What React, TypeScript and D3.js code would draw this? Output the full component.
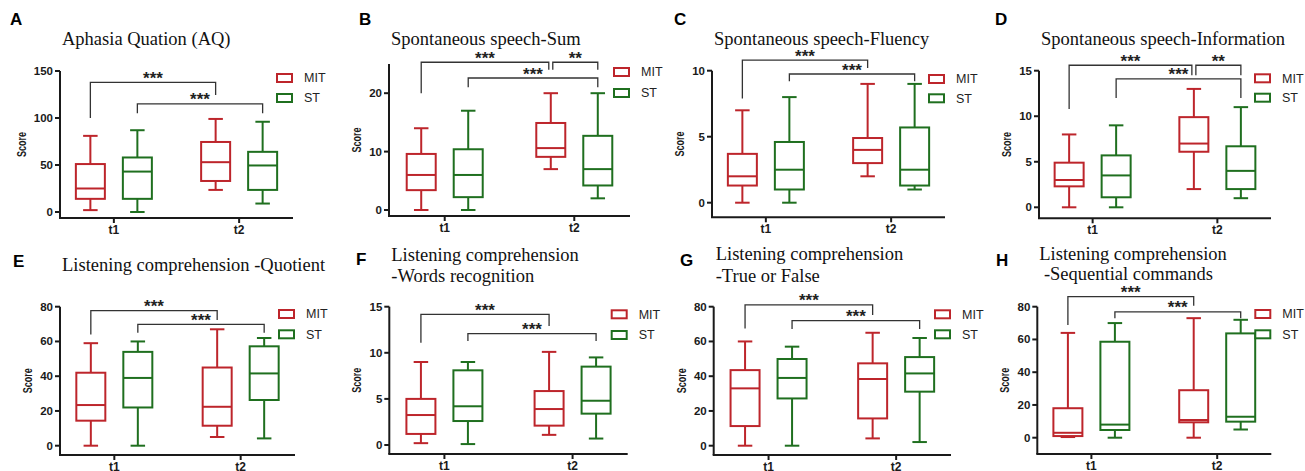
import React from "react"
import * as d3 from "d3"

// groups / timepoints shared by all panels
const timepoints = ["t1", "t2"]
const groups = ["MIT", "ST"]
const groupColor: Record<string, string> = { MIT: "#bd252b", ST: "#1f6f1f" }

const letters = ["A", "B", "C", "D", "E", "F", "G", "H"]
const titles = [
  ["Aphasia Quation (AQ)"],
  ["Spontaneous speech-Sum"],
  ["Spontaneous speech-Fluency"],
  ["Spontaneous speech-Information"],
  ["Listening comprehension -Quotient"],
  ["Listening comprehension", "-Words recognition"],
  ["Listening comprehension", "-True or False"],
  ["Listening comprehension", " -Sequential commands"],
]
const yTicks = [
  [0, 50, 100, 150],
  [0, 10, 20],
  [0, 5, 10],
  [0, 5, 10, 15],
  [0, 20, 40, 60, 80],
  [0, 5, 10, 15],
  [0, 20, 40, 60, 80],
  [0, 20, 40, 60, 80],
]
const yMax = [150, 25, 10, 15, 80, 15, 80, 80]

// [min, q1, median, q3, max] for MIT t1, ST t1, MIT t2, ST t2
const aqStats = [
  [2, 14, 25, 51, 81],
  [0, 14, 43, 58, 87],
  [23.5, 33, 53, 74.5, 99],
  [9, 23.5, 49.5, 64, 96],
]
const sumStats = [
  [0, 3.4, 6, 9.6, 14],
  [0, 2.2, 6, 10.4, 17],
  [7, 9.1, 10.6, 14.9, 20],
  [2, 4.2, 7, 12.7, 20],
]
const fluencyStats = [
  [0, 1.3, 2, 3.7, 7],
  [0, 1, 2.5, 4.6, 8],
  [2, 3, 4, 4.9, 9],
  [1, 1.3, 2.5, 5.7, 9],
]
const infoStats = [
  [0, 2.3, 3, 4.9, 8],
  [0, 1.1, 3.5, 5.7, 9],
  [2, 6.1, 7, 9.9, 13],
  [1, 2, 4, 6.7, 11],
]
const quotientStats = [
  [0, 14.4, 23.4, 42, 59],
  [0, 22, 39, 54, 60],
  [5, 11.5, 22.4, 45, 67],
  [4.2, 26.3, 41.6, 57.2, 62],
]
const wordsStats = [
  [0.2, 1.2, 3.25, 5, 9],
  [0.1, 2.6, 4.2, 8.1, 9],
  [1.1, 2.1, 3.9, 5.85, 10.1],
  [0.7, 3.4, 4.8, 8.5, 9.5],
]
const trueFalseStats = [
  [0, 11.3, 33, 43.5, 60],
  [0, 27.2, 39, 49.9, 57],
  [4.2, 15.7, 38.4, 47.4, 65],
  [2.1, 31.1, 41.6, 51, 62],
]
const sequentialStats = [
  [0.4, 1, 3, 18, 64],
  [0, 4.7, 8, 58.6, 70],
  [0, 9.4, 10.8, 29, 73],
  [5, 9.8, 12.8, 63.7, 72],
]
const stats = [aqStats, sumStats, fluencyStats, infoStats, quotientStats, wordsStats, trueFalseStats, sequentialStats]

// significance brackets: [fromTime, fromGroup, toTime, toGroup, top, leftEnd, rightEnd, label]
type Bracket = [string, string, string, string, number, number, number, string]
const brackets: Bracket[][] = [
  [["t1", "MIT", "t2", "MIT", 138, 100, 124.5, "***"], ["t1", "ST", "t2", "ST", 115, 105, 105, "***"]],
  [
    ["t1", "MIT", "t2", "MIT", 25.3, 20, 24, "***"],
    ["t2", "MIT", "t2", "ST", 25.3, 24, 24, "**"],
    ["t1", "ST", "t2", "ST", 22.6, 21, 21, "***"],
  ],
  [["t1", "MIT", "t2", "MIT", 10.8, 7.9, 10.2, "***"], ["t1", "ST", "t2", "ST", 9.75, 9.2, 9.2, "***"]],
  [
    ["t1", "MIT", "t2", "MIT", 15.6, 10.8, 14.5, "***"],
    ["t2", "MIT", "t2", "ST", 15.6, 14.5, 14.5, "**"],
    ["t1", "ST", "t2", "ST", 14.1, 12, 12, "***"],
  ],
  [["t1", "MIT", "t2", "MIT", 77.7, 64, 72.3, "***"], ["t1", "ST", "t2", "ST", 69.8, 65, 65, "***"]],
  [["t1", "MIT", "t2", "MIT", 14.17, 11.1, 12.9, "***"], ["t1", "ST", "t2", "ST", 12.07, 11.28, 11.28, "***"]],
  [["t1", "MIT", "t2", "MIT", 81, 67.5, 75.2, "***"], ["t1", "ST", "t2", "ST", 72, 67.1, 67.1, "***"]],
  [["t1", "MIT", "t2", "MIT", 86.1, 68.8, 80.6, "***"], ["t1", "ST", "t2", "ST", 76.9, 72.9, 72.9, "***"]],
]

// pixel layout of each panel
const layout = [
  { letterX: 10, letterY: 25, axisX: 60, axisEnd: 293, zeroY: 212, topY: 71, axisY: 218, titleY: [45], legendY: [78, 98] },
  { letterX: 359, letterY: 25, axisX: 389, axisEnd: 630, zeroY: 210, topY: 64, axisY: 216, titleY: [45], legendY: [72, 93] },
  { letterX: 674, letterY: 25, axisX: 712, axisEnd: 945, zeroY: 202.7, topY: 70.7, axisY: 217.3, titleY: [45], legendY: [79, 98.3] },
  { letterX: 995, letterY: 25, axisX: 1039, axisEnd: 1271, zeroY: 207.3, topY: 70.7, axisY: 218.3, titleY: [45], legendY: [78.3, 97.7] },
  { letterX: 13, letterY: 266.7, axisX: 60, axisEnd: 295, zeroY: 445.7, topY: 306.7, axisY: 455, titleY: [271], legendY: [314, 334.3] },
  { letterX: 356, letterY: 265, axisX: 389.3, axisEnd: 627.7, zeroY: 445, topY: 306.7, axisY: 454, titleY: [261, 281.7], legendY: [314.3, 335] },
  { letterX: 680, letterY: 265.7, axisX: 713.7, axisEnd: 951, zeroY: 445.7, topY: 306.7, axisY: 455, titleY: [260, 281.7], legendY: [314.3, 334.3] },
  { letterX: 996, letterY: 265.7, axisX: 1037.3, axisEnd: 1271.3, zeroY: 437.7, topY: 306.7, axisY: 454, titleY: [260, 280], legendY: [314, 334.3] },
]

const SANS = "'Liberation Sans', Arial, sans-serif"
const SERIF = "'Liberation Serif', 'Times New Roman', serif"
const INK = "#1a1a1a"
const BOX_W = 29

const Panel = ({ i }: { i: number }) => {
  const L = layout[i]
  const y = d3.scaleLinear().domain([0, yMax[i]]).range([L.zeroY, L.topY])
  const x = d3.scalePoint().domain(timepoints).range([L.axisX, L.axisEnd]).padding(0.43)
  const g = d3.scaleBand().domain(groups).range([-47, 47])
  const cx = (t: string, grp: string) => (x(t) as number) + (g(grp) as number) + g.bandwidth() / 2
  const digits = String(d3.max(yTicks[i])).length
  const axisMid = (L.topY + L.axisY) / 2

  const boxes = timepoints.flatMap((t, ti) =>
    groups.map((grp, gi) => ({ t, grp, s: stats[i][ti * 2 + gi] }))
  )

  return (
    <g>
      <text x={L.letterX} y={L.letterY} fontFamily={SANS} fontWeight="bold" fontSize={17} fill="#000">
        {letters[i]}
      </text>
      {titles[i].map((line, li) => (
        <text
          key={li}
          x={L.axisX + 2}
          y={L.titleY[li]}
          fontFamily={SERIF}
          fontSize={18.5}
          fill="#111"
          xmlSpace="preserve"
          style={{ whiteSpace: "pre" }}
        >
          {line}
        </text>
      ))}

      {/* y axis */}
      <line x1={L.axisX} x2={L.axisX} y1={L.topY} y2={L.axisY} stroke={INK} strokeWidth={2} />
      {yTicks[i].map((v) => (
        <g key={v}>
          <line x1={L.axisX - 5} x2={L.axisX} y1={y(v)} y2={y(v)} stroke={INK} strokeWidth={2} />
          <text
            x={L.axisX - 7}
            y={y(v)}
            dy="0.35em"
            textAnchor="end"
            fontFamily={SANS}
            fontWeight="bold"
            fontSize={11.5}
            fill={INK}
          >
            {v}
          </text>
        </g>
      ))}
      <text
        transform={`translate(${L.axisX - 16 - 6 * digits},${axisMid}) rotate(-90)`}
        textAnchor="middle"
        fontFamily={SANS}
        fontWeight="bold"
        fontSize={13}
        textLength={25}
        lengthAdjust="spacingAndGlyphs"
        fill={INK}
      >
        Score
      </text>

      {/* x axis */}
      <line x1={L.axisX - 1} x2={L.axisEnd} y1={L.axisY} y2={L.axisY} stroke={INK} strokeWidth={2} />
      {timepoints.map((t) => (
        <g key={t}>
          <line x1={x(t)} x2={x(t)} y1={L.axisY} y2={L.axisY + 5} stroke={INK} strokeWidth={2} />
          <text
            x={x(t)}
            y={L.axisY + 16}
            textAnchor="middle"
            fontFamily={SANS}
            fontWeight="bold"
            fontSize={12}
            fill={INK}
          >
            {t}
          </text>
        </g>
      ))}

      {/* boxes */}
      {boxes.map(({ t, grp, s }) => {
        const c = cx(t, grp)
        const [mn, q1, md, q3, mx] = s
        const col = groupColor[grp]
        return (
          <g key={t + grp} stroke={col} strokeWidth={2} fill="none">
            <line x1={c} x2={c} y1={y(mx)} y2={y(q3)} />
            <line x1={c} x2={c} y1={y(q1)} y2={y(mn)} />
            <line x1={c - BOX_W / 4} x2={c + BOX_W / 4} y1={y(mx)} y2={y(mx)} />
            <line x1={c - BOX_W / 4} x2={c + BOX_W / 4} y1={y(mn)} y2={y(mn)} />
            <rect x={c - BOX_W / 2} y={y(q3)} width={BOX_W} height={y(q1) - y(q3)} fill="#fff" />
            <line x1={c - BOX_W / 2} x2={c + BOX_W / 2} y1={y(md)} y2={y(md)} />
          </g>
        )
      })}

      {/* significance brackets */}
      {brackets[i].map(([ta, ga, tb, gb, top, ea, eb, label], bi) => {
        // nudge where two brackets meet on the same box
        const meetsRight = brackets[i].some((o, oi) => oi !== bi && o[0] === tb && o[1] === gb)
        const meetsLeft = brackets[i].some((o, oi) => oi !== bi && o[2] === ta && o[3] === ga)
        const x1 = cx(ta, ga) + (meetsLeft ? 2 : 0)
        const x2 = cx(tb, gb) - (meetsRight ? 2 : 0)
        return (
          <g key={bi}>
            <path
              d={`M${x1},${y(ea)}V${y(top)}H${x2}V${y(eb)}`}
              fill="none"
              stroke="#333"
              strokeWidth={1.3}
            />
            <text
              x={(x1 + x2) / 2}
              y={y(top) + 1.5}
              textAnchor="middle"
              fontFamily={SANS}
              fontWeight="bold"
              fontSize={17}
              fill="#222"
            >
              {label}
            </text>
          </g>
        )
      })}

      {/* legend */}
      {groups.map((grp, gi) => (
        <g key={grp}>
          <rect
            x={L.axisEnd - 16}
            y={L.legendY[gi] - 4}
            width={15}
            height={8}
            fill="#fff"
            stroke={groupColor[grp]}
            strokeWidth={2}
          />
          <text x={L.axisEnd + 11} y={L.legendY[gi]} dy="0.35em" fontFamily={SANS} fontSize={12.5} fill="#222">
            {grp}
          </text>
        </g>
      ))}
    </g>
  )
}

export default function App() {
  return (
    <svg width={1305} height={471} style={{ position: "absolute", left: 0, top: 0, background: "#fff" }}>
      <rect width={1305} height={471} fill="#fff" />
      {letters.map((_, i) => (
        <Panel key={i} i={i} />
      ))}
    </svg>
  )
}
